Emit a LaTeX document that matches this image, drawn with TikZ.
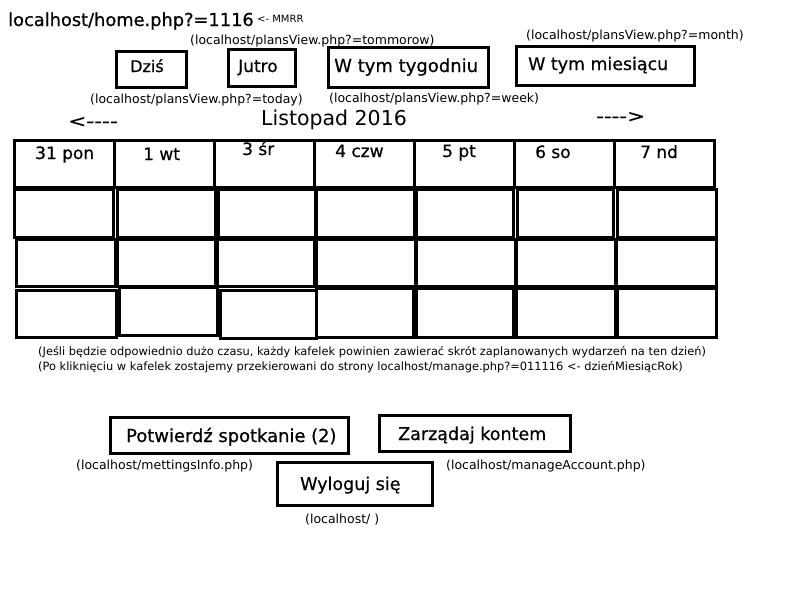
\documentclass[tikz,border=0pt]{standalone}
\usepackage{fontspec}
\setmainfont{DejaVu Sans}
\newfontfamily\heavyfont[FakeBold=0.6]{DejaVu Sans}
\begin{document}
\begin{tikzpicture}[x=1pt,y=-1pt,
  box/.style={draw, line width=3pt, inner sep=0pt},
  cellbox/.style={draw, line width=3pt},
  lbl/.style={inner sep=0pt, anchor=base west},
  small/.style={font=\fontsize{12.5}{14}\selectfont},
  note/.style={font=\fontsize{11.4}{13}\selectfont}]
\useasboundingbox (0,0) rectangle (800,600);
\fill[white] (0,0) rectangle (800,600);

% title
\node[lbl, font=\heavyfont\fontsize{17.8}{20}\selectfont] (title) at (8,26) {localhost/home.php?=1116};
\node[lbl, font=\fontsize{10}{12}\selectfont] (mmrr) at (257,22) {<{-} MMRR};

% top buttons
\node[box, minimum width=70pt, minimum height=36pt] (dzis) at (151,69) {};
\node[lbl, font=\heavyfont\fontsize{16}{18}\selectfont] (dzist) at (130,72) {Dziś};
\node[box, minimum width=67pt, minimum height=37pt] (jutro) at (261.5,68) {};
\node[lbl, font=\heavyfont\fontsize{17}{18}\selectfont] (jutrot) at (238,72) {Jutro};
\node[box, minimum width=160pt, minimum height=40pt] (tydz) at (408,67) {};
\node[lbl, font=\heavyfont\fontsize{18}{20}\selectfont] (tydzt) at (334,72) {W tym tygodniu};
\node[box, minimum width=178pt, minimum height=39pt] (mies) at (605,66) {};
\node[lbl, font=\heavyfont\fontsize{17.4}{20}\selectfont] (miest) at (528,70) {W tym miesiącu};

% link labels
\node[lbl, small] (ltom) at (190,44) {(localhost/plansView.php?=tommorow)};
\node[lbl, small] (ltoday) at (90,103) {(localhost/plansView.php?=today)};
\node[lbl, small] (lweek) at (329,102) {(localhost/plansView.php?=week)};
\node[lbl, small] (lmonth) at (526,39) {(localhost/plansView.php?=month)};

% month header
\node[lbl, font=\fontsize{20.5}{24}\selectfont] (month) at (261,125) {Listopad 2016};
\node[lbl, font=\heavyfont\fontsize{17}{20}\selectfont] (prev) at (68,127) {\scalebox{1.28}[1]{<{-}{-}{-}{-}}};
\node[lbl, font=\heavyfont\fontsize{17}{20}\selectfont] (next) at (596,122) {\scalebox{1.26}[1]{{-}{-}{-}{-}>}};

% header row of the calendar
\foreach \xa/\xb in {14/114,114/214,214/314,314/414,414/514,514/614,614/714}
  \draw[cellbox] (\xa,140) rectangle (\xb,187);
\node[lbl, font=\heavyfont\fontsize{17}{20}\selectfont] (d1) at (35,159) {31 pon};
\node[lbl, font=\heavyfont\fontsize{17}{20}\selectfont] (d2) at (143,160) {1 wt};
\node[lbl, font=\heavyfont\fontsize{17}{20}\selectfont] (d3) at (242,155) {3 śr};
\node[lbl, font=\heavyfont\fontsize{17}{20}\selectfont] (d4) at (335,157) {4 czw};
\node[lbl, font=\heavyfont\fontsize{17}{20}\selectfont] (d5) at (442,157) {5 pt};
\node[lbl, font=\heavyfont\fontsize{17}{20}\selectfont] (d6) at (535,158) {6 so};
\node[lbl, font=\heavyfont\fontsize{17}{20}\selectfont] (d7) at (640,158) {7 nd};

% cell rows
\foreach \xa/\xb in {14/113,117/215,218/315,316/414,416/513,517/613,617/716}
  \draw[cellbox] (\xa,189) rectangle (\xb,237);
\foreach \xa/\xb in {16/115,117/215,217/314,316/415,416/515,516/615,616/716}
  \draw[cellbox] (\xa,239) rectangle (\xb,286);
\draw[cellbox] (16,290) rectangle (116,337);
\draw[cellbox] (119,287) rectangle (217,335);
\draw[cellbox] (220,290) rectangle (316,338);
\foreach \xa/\xb in {316/413,416/513,516/615,617/716}
  \draw[cellbox] (\xa,288) rectangle (\xb,337);

% notes
\node[lbl, note] (n1) at (38,355) {(Jeśli będzie odpowiednio dużo czasu, każdy kafelek powinien zawierać skrót zaplanowanych wydarzeń na ten dzień)};
\node[lbl, note] (n2) at (38,370) {(Po kliknięciu w kafelek zostajemy przekierowani do strony localhost/manage.php?=011116 <{-} dzieńMiesiącRok)};

% bottom buttons
\node[box, minimum width=238pt, minimum height=36pt] (potw) at (229,435.5) {};
\node[lbl, font=\heavyfont\fontsize{17.9}{20}\selectfont] (potwt) at (126,442) {Potwierdź spotkanie (2)};
\node[box, minimum width=191pt, minimum height=36pt] (konto) at (475,433.5) {};
\node[lbl, font=\heavyfont\fontsize{17.5}{20}\selectfont] (kontot) at (398,440) {Zarządaj kontem};
\node[box, minimum width=155pt, minimum height=43pt] (wyl) at (354.5,484) {};
\node[lbl, font=\heavyfont\fontsize{17.5}{20}\selectfont] (wylt) at (300,490) {Wyloguj się};

\node[lbl, small] (lmeet) at (76,469) {(localhost/mettingsInfo.php)};
\node[lbl, small] (lacc) at (446,469) {(localhost/manageAccount.php)};
\node[lbl, small] (lhome) at (305,523) {(localhost/ )};
\end{tikzpicture}
\end{document}
